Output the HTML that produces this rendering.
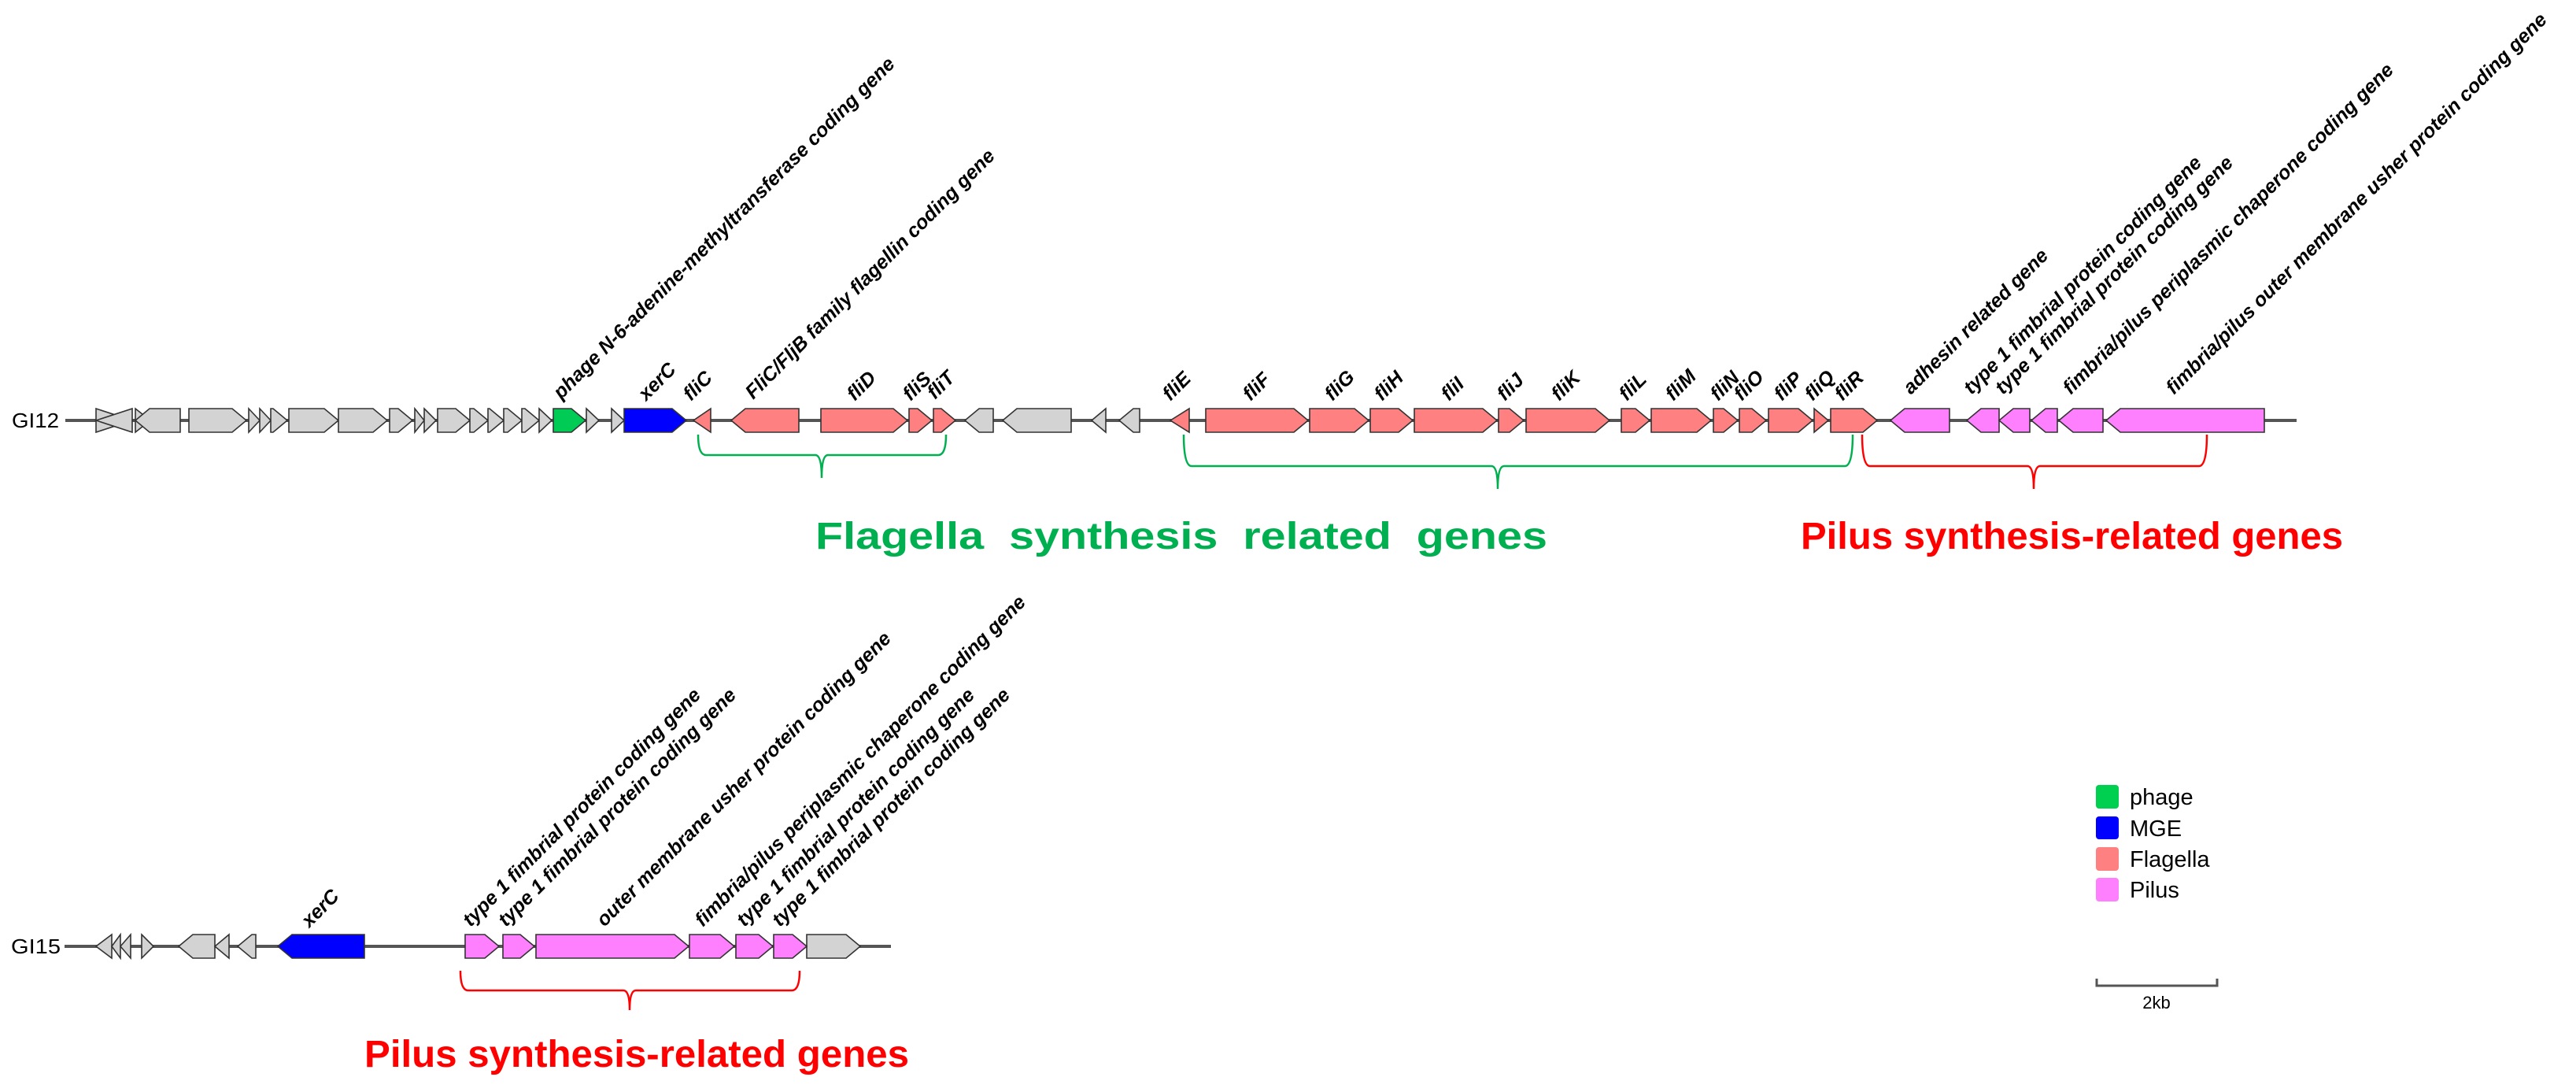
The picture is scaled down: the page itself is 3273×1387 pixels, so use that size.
<!DOCTYPE html>
<html><head><meta charset="utf-8"><style>
html,body{margin:0;padding:0;background:#fff;}
svg{display:block;}
.lb{font-family:"Liberation Sans",sans-serif;font-weight:bold;font-style:italic;font-size:25px;fill:#000;}
.g polygon{stroke:#333;stroke-width:1.6;stroke-linejoin:miter;}
</style></head><body>
<svg width="3273" height="1387" viewBox="0 0 3273 1387" xmlns="http://www.w3.org/2000/svg">
<rect width="3273" height="1387" fill="#fff"/>
<!-- GI12 -->
<text x="15" y="543" font-family="Liberation Sans,sans-serif" font-size="26" textLength="60" lengthAdjust="spacingAndGlyphs">GI12</text>
<line x1="83" y1="534" x2="2918" y2="534" stroke="#555" stroke-width="4"/>
<g class="g" fill="#d3d3d3">
<polygon points="122,519 168,534 122,549"/>
<polygon points="122,534 168,519 168,549"/>
<polygon points="172,519 191,534 172,549"/>
<polygon points="172,534 190,519 229,519 229,549 190,549"/>
<polygon points="240,519 295,519 313,534 295,549 240,549"/>
<polygon points="316,519 330,534 316,549"/>
<polygon points="330,519 344,534 330,549"/>
<polygon points="344,519 347,519 365,534 347,549 344,549"/>
<polygon points="367,519 412,519 430,534 412,549 367,549"/>
<polygon points="430,519 474,519 492,534 474,549 430,549"/>
<polygon points="495,519 506,519 524,534 506,549 495,549"/>
<polygon points="527,519 539,534 527,549"/>
<polygon points="539,519 554,534 539,549"/>
<polygon points="556,519 579,519 597,534 579,549 556,549"/>
<polygon points="597,519 602,519 620,534 602,549 597,549"/>
<polygon points="620,519 622,519 640,534 622,549 620,549"/>
<polygon points="640,519 645,519 663,534 645,549 640,549"/>
<polygon points="663,519 667,519 685,534 667,549 663,549"/>
<polygon points="685,519 701,534 685,549"/>
<polygon points="745,519 761,534 745,549"/>
<polygon points="777,519 793,534 777,549"/>
<polygon points="1226,534 1244,519 1262,519 1262,549 1244,549"/>
<polygon points="1274,534 1292,519 1361,519 1361,549 1292,549"/>
<polygon points="1387,534 1405,519 1405,549"/>
<polygon points="1422,534 1440,519 1448,519 1448,549 1440,549"/>
</g>
<g class="g">
<polygon fill="#00cc55" points="703,519 726,519 744,534 726,549 703,549"/>
<polygon fill="#0000ff" points="793,519 854,519 872,534 854,549 793,549"/>
</g>
<g class="g" fill="#ff8080">
<polygon points="881,534 903,519 903,549"/>
<polygon points="929,534 947,519 1015,519 1015,549 947,549"/>
<polygon points="1043,519 1135,519 1153,534 1135,549 1043,549"/>
<polygon points="1155,519 1166,519 1184,534 1166,549 1155,549"/>
<polygon points="1186,519 1196,519 1214,534 1196,549 1186,549"/>
<polygon points="1487,534 1511,519 1511,549"/>
<polygon points="1532,519 1644,519 1662,534 1644,549 1532,549"/>
<polygon points="1664,519 1721,519 1739,534 1721,549 1664,549"/>
<polygon points="1741,519 1777,519 1795,534 1777,549 1741,549"/>
<polygon points="1797,519 1884,519 1902,534 1884,549 1797,549"/>
<polygon points="1904,519 1918,519 1936,534 1918,549 1904,549"/>
<polygon points="1939,519 2027,519 2045,534 2027,549 1939,549"/>
<polygon points="2060,519 2078,519 2096,534 2078,549 2060,549"/>
<polygon points="2098,519 2156,519 2174,534 2156,549 2098,549"/>
<polygon points="2177,519 2190,519 2208,534 2190,549 2177,549"/>
<polygon points="2210,519 2226,519 2244,534 2226,549 2210,549"/>
<polygon points="2247,519 2285,519 2303,534 2285,549 2247,549"/>
<polygon points="2305,519 2323,534 2305,549"/>
<polygon points="2326,519 2367,519 2385,534 2367,549 2326,549"/>
</g>
<g class="g" fill="#ff80ff">
<polygon points="2402,534 2420,519 2477,519 2477,549 2420,549"/>
<polygon points="2499,534 2517,519 2540,519 2540,549 2517,549"/>
<polygon points="2540,534 2558,519 2579,519 2579,549 2558,549"/>
<polygon points="2581,534 2599,519 2614,519 2614,549 2599,549"/>
<polygon points="2616,534 2634,519 2672,519 2672,549 2634,549"/>
<polygon points="2676,534 2694,519 2877,519 2877,549 2694,549"/>
</g>
<!-- GI12 labels -->
<g class="lb">
<text transform="translate(713,508) rotate(-45)">phage N-6-adenine-methyltransferase coding gene</text>
<text transform="translate(821,510) rotate(-45)">xerC</text>
<text transform="translate(878,510) rotate(-45)">fliC</text>
<text transform="translate(957,508) rotate(-45)">FliC/FljB family flagellin coding gene</text>
<text transform="translate(1086,510) rotate(-45)">fliD</text>
<text transform="translate(1157,510) rotate(-45)">fliS</text>
<text transform="translate(1188,508) rotate(-45)">fliT</text>
<text transform="translate(1487,510) rotate(-45)">fliE</text>
<text transform="translate(1589,510) rotate(-45)">fliF</text>
<text transform="translate(1693,510) rotate(-45)">fliG</text>
<text transform="translate(1756,510) rotate(-45)">fliH</text>
<text transform="translate(1841,510) rotate(-45)">fliI</text>
<text transform="translate(1912,510) rotate(-45)">fliJ</text>
<text transform="translate(1981,510) rotate(-45)">fliK</text>
<text transform="translate(2067,510) rotate(-45)">fliL</text>
<text transform="translate(2126,510) rotate(-45)">fliM</text>
<text transform="translate(2183,510) rotate(-45)">fliN</text>
<text transform="translate(2213,510) rotate(-45)">fliO</text>
<text transform="translate(2264,510) rotate(-45)">fliP</text>
<text transform="translate(2303,510) rotate(-45)">fliQ</text>
<text transform="translate(2341,510) rotate(-45)">fliR</text>
<text transform="translate(2428,502) rotate(-45)">adhesin related gene</text>
<text transform="translate(2505,502) rotate(-45)">type 1 fimbrial protein coding gene</text>
<text transform="translate(2545,502) rotate(-45)">type 1 fimbrial protein coding gene</text>
<text transform="translate(2631,502) rotate(-45)">fimbria/pilus periplasmic chaperone coding gene</text>
<text transform="translate(2762,502) rotate(-45)">fimbria/pilus outer membrane usher protein coding gene</text>
</g>
<!-- brackets GI12 -->
<g fill="none" stroke-width="2.5">
<path stroke="#00b050" d="M887,552 Q887,578 897,578 L1036,578 Q1044,578 1044,607 Q1044,578 1052,578 L1192,578 Q1202,578 1202,552"/>
<path stroke="#00b050" d="M1504,552 Q1504,592 1514,592 L1895,592 Q1903,592 1903,621 Q1903,592 1911,592 L2344,592 Q2354,592 2354,552"/>
<path stroke="#ff0000" d="M2366,552 Q2366,592 2376,592 L2576,592 Q2584,592 2584,621 Q2584,592 2592,592 L2794,592 Q2804,592 2804,552"/>
<path stroke="#ff0000" d="M585,1233 Q585,1258 595,1258 L792,1258 Q800,1258 800,1283 Q800,1258 808,1258 L1006,1258 Q1016,1258 1016,1233"/>
</g>
<text x="1036" y="697" font-family="Liberation Sans,sans-serif" font-weight="bold" font-size="48" fill="#00b050" textLength="930" lengthAdjust="spacingAndGlyphs" xml:space="preserve">Flagella  synthesis  related  genes</text>
<text x="2288" y="697" font-family="Liberation Sans,sans-serif" font-weight="bold" font-size="48" fill="#ff0000" textLength="689" lengthAdjust="spacingAndGlyphs">Pilus synthesis-related genes</text>
<text x="463" y="1355" font-family="Liberation Sans,sans-serif" font-weight="bold" font-size="48" fill="#ff0000" textLength="692" lengthAdjust="spacingAndGlyphs">Pilus synthesis-related genes</text>
<!-- GI15 -->
<text x="14" y="1211" font-family="Liberation Sans,sans-serif" font-size="26" textLength="63" lengthAdjust="spacingAndGlyphs">GI15</text>
<line x1="82" y1="1202" x2="1132" y2="1202" stroke="#555" stroke-width="4"/>
<g class="g" fill="#d3d3d3">
<polygon points="122,1202 142,1187 142,1217"/>
<polygon points="142,1202 153,1187 153,1217"/>
<polygon points="153,1202 166,1187 166,1217"/>
<polygon points="180,1187 195,1202 180,1217"/>
<polygon points="227,1202 245,1187 273,1187 273,1217 245,1217"/>
<polygon points="273,1202 291,1187 291,1217"/>
<polygon points="302,1202 320,1187 325,1187 325,1217 320,1217"/>
<polygon points="1025,1187 1075,1187 1093,1202 1075,1217 1025,1217"/>
</g>
<g class="g">
<polygon fill="#0000ff" points="353,1202 371,1187 463,1187 463,1217 371,1217"/>
</g>
<g class="g" fill="#ff80ff">
<polygon points="591,1187 616,1187 634,1202 616,1217 591,1217"/>
<polygon points="639,1187 661,1187 679,1202 661,1217 639,1217"/>
<polygon points="681,1187 857,1187 875,1202 857,1217 681,1217"/>
<polygon points="876,1187 915,1187 933,1202 915,1217 876,1217"/>
<polygon points="935,1187 964,1187 982,1202 964,1217 935,1217"/>
<polygon points="983,1187 1007,1187 1025,1202 1007,1217 983,1217"/>
</g>
<g class="lb">
<text transform="translate(393,1179) rotate(-45)">xerC</text>
<text transform="translate(598,1178) rotate(-45)">type 1 fimbrial protein coding gene</text>
<text transform="translate(643,1178) rotate(-45)">type 1 fimbrial protein coding gene</text>
<text transform="translate(768,1178) rotate(-45)">outer membrane usher protein coding gene</text>
<text transform="translate(893,1178) rotate(-45)">fimbria/pilus periplasmic chaperone coding gene</text>
<text transform="translate(946,1178) rotate(-45)">type 1 fimbrial protein coding gene</text>
<text transform="translate(991,1178) rotate(-45)">type 1 fimbrial protein coding gene</text>
</g>
<!-- legend -->
<rect x="2663" y="997" width="29" height="30" rx="4" fill="#00d050"/>
<rect x="2663" y="1037" width="29" height="29" rx="4" fill="#0000ff"/>
<rect x="2663" y="1076" width="29" height="30" rx="4" fill="#ff8080"/>
<rect x="2663" y="1115" width="29" height="30" rx="4" fill="#ff80ff"/>
<g font-family="Liberation Sans,sans-serif" font-size="29" fill="#000">
<text x="2706" y="1022">phage</text>
<text x="2706" y="1062">MGE</text>
<text x="2706" y="1101">Flagella</text>
<text x="2706" y="1140">Pilus</text>
</g>
<path d="M2664,1243 L2664,1252 L2817,1252 L2817,1243" fill="none" stroke="#555" stroke-width="3"/>
<text x="2740" y="1281" text-anchor="middle" font-family="Liberation Sans,sans-serif" font-size="22">2kb</text>
</svg>
</body></html>
